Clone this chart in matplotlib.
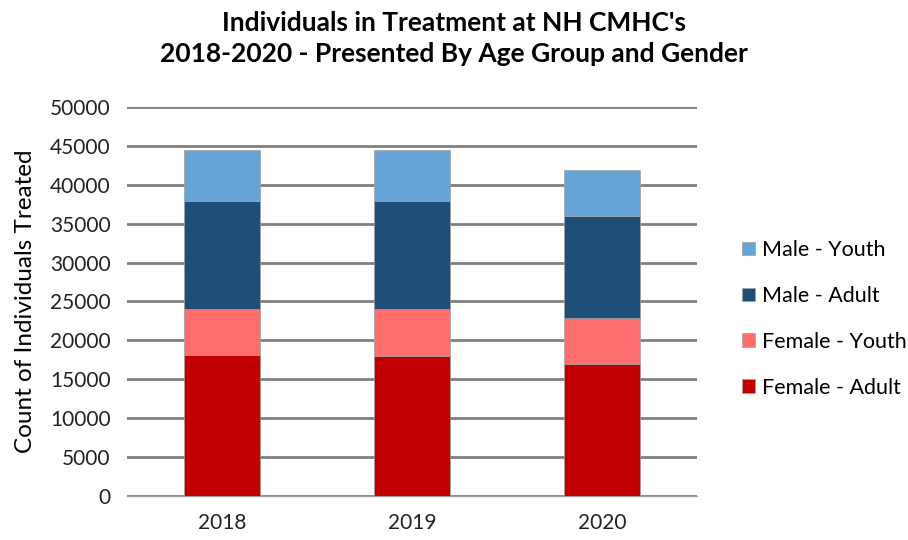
import matplotlib.pyplot as plt
import numpy as np

years = ['2018', '2019', '2020']
female_adult = [18150, 17980, 17000]
female_youth = [5850, 6020, 5870]
male_adult = [13850, 13850, 13130]
male_youth = [6650, 6650, 5880]

series = [
    ('Female - Adult', female_adult, '#C00000'),
    ('Female - Youth', female_youth, '#FF6D6D'),
    ('Male - Adult', male_adult, '#1F4E79'),
    ('Male - Youth', male_youth, '#66A3D6'),
]

plt.rcParams['font.family'] = ['Lato', 'DejaVu Sans']

fig = plt.figure(figsize=(9.08, 5.4), dpi=100)
ax = fig.add_axes([0.14, 0.0815, 0.628, 0.7205])

x = np.arange(len(years))
bottom = np.zeros(len(years))
handles = []
for name, vals, col in series:
    b = ax.bar(x, vals, 0.4, bottom=bottom, color=col, label=name,
               edgecolor='#a0a0a0', linewidth=0.5, zorder=3)
    handles.append(b)
    bottom += np.array(vals)

ax.set_xlim(-0.5, 2.5)
ax.set_ylim(0, 50000)
ax.set_yticks(np.arange(0, 50001, 5000))
ax.set_xticks(x)
ax.set_xticklabels(years)
ax.tick_params(axis='both', length=0, labelsize=15, colors='#222222')
ax.tick_params(axis='y', pad=12)
ax.tick_params(axis='x', pad=12)
ax.grid(axis='y', color='#808080', linewidth=2, zorder=0)
for s in ['top', 'right', 'left']:
    ax.spines[s].set_visible(False)
ax.spines['bottom'].set_color('#a0a0a0')
ax.spines['bottom'].set_linewidth(1)

ax.set_ylabel('Count of Individuals Treated', fontsize=17.5, labelpad=10)

fig.text(0.5, 0.98, "Individuals in Treatment at NH CMHC's\n2018-2020 - Presented By Age Group and Gender",
         ha='center', va='top', fontsize=19, fontweight='bold', linespacing=1.35)

leg = ax.legend(handles[::-1], [s[0] for s in series][::-1],
                loc='center left', bbox_to_anchor=(1.045, 0.455),
                frameon=False, fontsize=15.5, handlelength=0.6, handleheight=0.6,
                handletextpad=0.3, labelspacing=1.2)

fig.savefig('out.png', dpi=100)
